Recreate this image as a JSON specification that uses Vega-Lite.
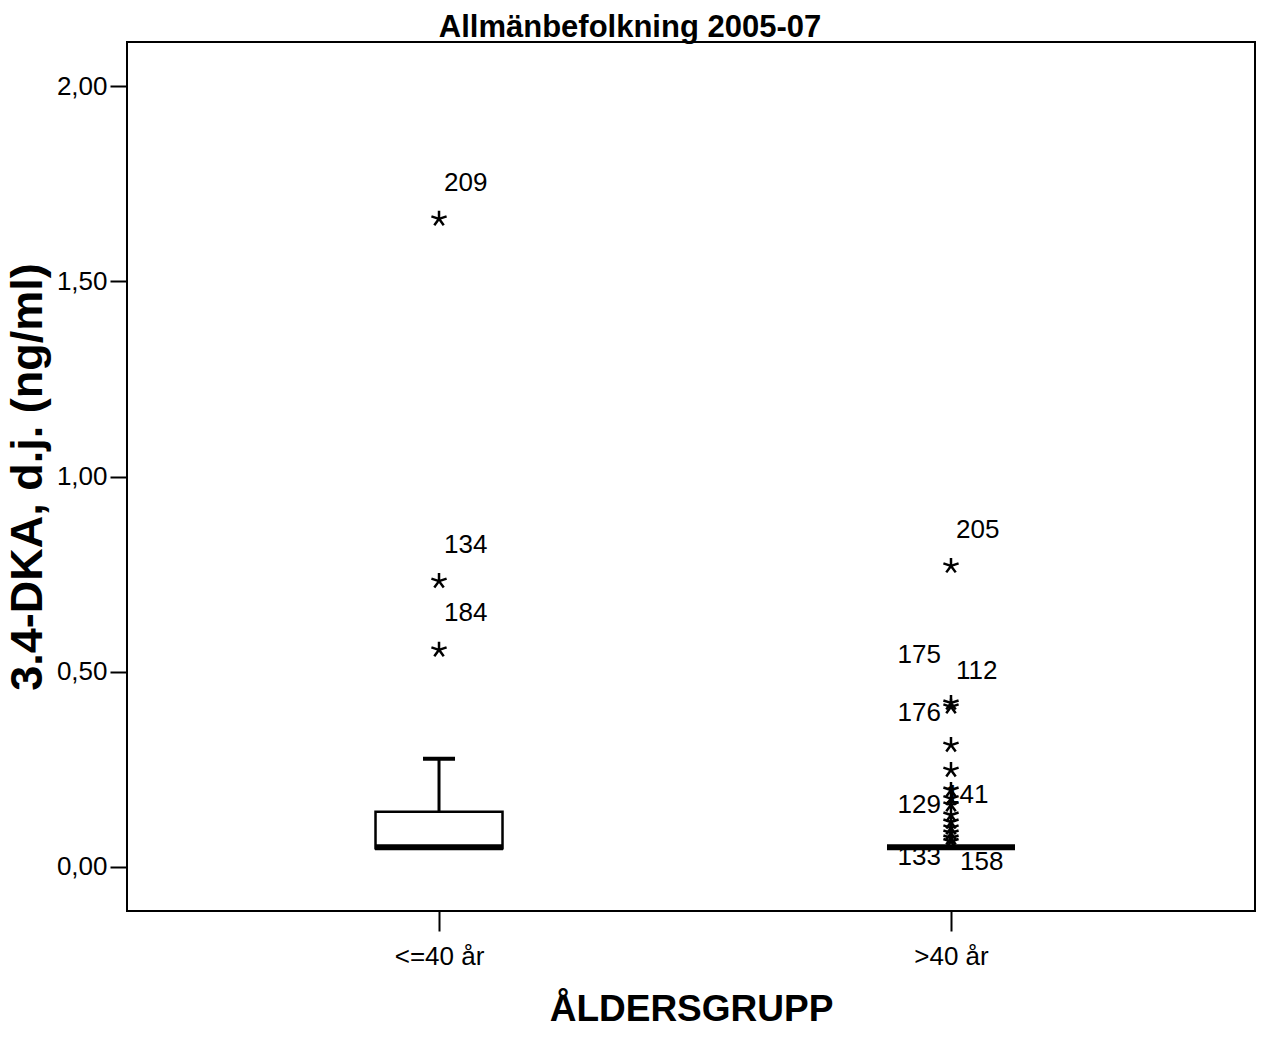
{
  "$schema": "https://vega.github.io/schema/vega-lite/v6.json",
  "width": 1128,
  "height": 869,
  "autosize": "none",
  "padding": {"left": 127, "top": 42, "right": 14, "bottom": 129},
  "background": "white",
  "title": {
    "text": "Allmänbefolkning 2005-07",
    "font": "Liberation Sans",
    "fontSize": 31,
    "fontWeight": "bold",
    "color": "black",
    "anchor": "middle",
    "dx": -61,
    "dy": 36,
    "offset": 3,
    "baseline": "bottom"
  },
  "config": {
    "view": {"stroke": "black", "strokeWidth": 2},
    "axis": {"grid": false}
  },
  "datasets": {
    "boxes": [
      {"group": "<=40 år", "q1": 0.048, "median": 0.05, "q3": 0.141, "whiskerTop": 0.277},
      {"group": ">40 år", "q1": 0.05, "median": 0.05, "q3": 0.05, "whiskerTop": 0.05}
    ],
    "outliers": [
      {"group": "<=40 år", "value": 1.66},
      {"group": "<=40 år", "value": 0.732},
      {"group": "<=40 år", "value": 0.556},
      {"group": ">40 år", "value": 0.771},
      {"group": ">40 år", "value": 0.42},
      {"group": ">40 år", "value": 0.41},
      {"group": ">40 år", "value": 0.312},
      {"group": ">40 år", "value": 0.248},
      {"group": ">40 år", "value": 0.197},
      {"group": ">40 år", "value": 0.175},
      {"group": ">40 år", "value": 0.159},
      {"group": ">40 år", "value": 0.133},
      {"group": ">40 år", "value": 0.115},
      {"group": ">40 år", "value": 0.1},
      {"group": ">40 år", "value": 0.087},
      {"group": ">40 år", "value": 0.074},
      {"group": ">40 år", "value": 0.065}
    ],
    "labels": [
      {"group": "<=40 år", "labelValue": 1.752, "label": "209", "side": "right"},
      {"group": "<=40 år", "labelValue": 0.825, "label": "134", "side": "right"},
      {"group": "<=40 år", "labelValue": 0.65, "label": "184", "side": "right"},
      {"group": ">40 år", "labelValue": 0.863, "label": "205", "side": "right"},
      {"group": ">40 år", "labelValue": 0.502, "label": "112", "side": "right"},
      {"group": ">40 år", "labelValue": 0.543, "label": "175", "side": "left"},
      {"group": ">40 år", "labelValue": 0.394, "label": "176", "side": "left"},
      {"group": ">40 år", "labelValue": 0.159, "label": "129", "side": "left"},
      {"group": ">40 år", "labelValue": 0.184, "label": "141", "side": "near"},
      {"group": ">40 år", "labelValue": 0.026, "label": "133", "side": "left"},
      {"group": ">40 år", "labelValue": 0.013, "label": "158", "side": "far"}
    ]
  },
  "encoding": {
    "x": {
      "field": "group",
      "type": "nominal",
      "sort": ["<=40 år", ">40 år"],
      "scale": {"type": "point", "padding": 0.6016, "align": 0.5065},
      "axis": {
        "title": "ÅLDERSGRUPP",
        "titleFont": "Liberation Sans",
        "titleFontSize": 37,
        "titleFontWeight": "bold",
        "titleColor": "black",
        "titlePadding": 22,
        "labelFont": "Liberation Sans",
        "labelFontSize": 26,
        "labelColor": "black",
        "labelAngle": 0,
        "labelPadding": 12,
        "domain": false,
        "tickColor": "black",
        "tickWidth": 2,
        "tickSize": 20
      }
    }
  },
  "layer": [
    {
      "data": {"name": "boxes"},
      "mark": {"type": "rule", "color": "black", "strokeWidth": 3},
      "encoding": {
        "y": {
          "field": "q3",
          "type": "quantitative",
          "scale": {"domain": [-0.113, 2.113], "nice": false, "zero": false},
          "axis": {
            "title": "3.4-DKA, d.j. (ng/ml)",
            "titleFont": "Liberation Sans",
            "titleFontSize": 45,
            "titleFontWeight": "bold",
            "titleColor": "black",
            "titlePadding": 6,
            "values": [0, 0.5, 1, 1.5, 2],
            "labelExpr": "replace(format(datum.value, '.2f'), '.', ',')",
            "labelFont": "Liberation Sans",
            "labelFontSize": 26,
            "labelColor": "black",
            "labelPadding": 3,
            "domain": false,
            "tickColor": "black",
            "tickWidth": 2,
            "tickSize": 17
          }
        },
        "y2": {"field": "whiskerTop"}
      }
    },
    {
      "data": {"name": "boxes"},
      "mark": {"type": "tick", "color": "black", "size": 32, "thickness": 4, "opacity": 1},
      "encoding": {"y": {"field": "whiskerTop", "type": "quantitative"}}
    },
    {
      "data": {"name": "boxes"},
      "mark": {"type": "bar", "width": 127, "fill": "white", "stroke": "black", "strokeWidth": 2.5, "opacity": 1},
      "encoding": {
        "y": {"field": "q1", "type": "quantitative"},
        "y2": {"field": "q3"}
      }
    },
    {
      "data": {"name": "boxes"},
      "mark": {"type": "tick", "color": "black", "size": 128, "thickness": 6, "opacity": 1},
      "encoding": {"y": {"field": "median", "type": "quantitative"}}
    },
    {
      "data": {"name": "outliers"},
      "mark": {
        "type": "point",
        "shape": "M0,0L0,-1M0,0L0.95,-0.31M0,0L-0.95,-0.31M0,0L0.59,0.81M0,0L-0.59,0.81",
        "filled": false,
        "stroke": "black",
        "strokeWidth": 2.5,
        "size": 256,
        "opacity": 1
      },
      "encoding": {"y": {"field": "value", "type": "quantitative"}}
    },
    {
      "data": {"name": "labels"},
      "transform": [{"filter": "datum.side === 'right'"}],
      "mark": {"type": "text", "align": "left", "baseline": "middle", "dx": 5, "font": "Liberation Sans", "fontSize": 26, "color": "black"},
      "encoding": {"y": {"field": "labelValue", "type": "quantitative"}, "text": {"field": "label"}}
    },
    {
      "data": {"name": "labels"},
      "transform": [{"filter": "datum.side === 'left'"}],
      "mark": {"type": "text", "align": "right", "baseline": "middle", "dx": -10, "font": "Liberation Sans", "fontSize": 26, "color": "black"},
      "encoding": {"y": {"field": "labelValue", "type": "quantitative"}, "text": {"field": "label"}}
    },
    {
      "data": {"name": "labels"},
      "transform": [{"filter": "datum.side === 'near'"}],
      "mark": {"type": "text", "align": "left", "baseline": "middle", "dx": -6, "font": "Liberation Sans", "fontSize": 26, "color": "black"},
      "encoding": {"y": {"field": "labelValue", "type": "quantitative"}, "text": {"field": "label"}}
    },
    {
      "data": {"name": "labels"},
      "transform": [{"filter": "datum.side === 'far'"}],
      "mark": {"type": "text", "align": "left", "baseline": "middle", "dx": 9, "font": "Liberation Sans", "fontSize": 26, "color": "black"},
      "encoding": {"y": {"field": "labelValue", "type": "quantitative"}, "text": {"field": "label"}}
    }
  ]
}
